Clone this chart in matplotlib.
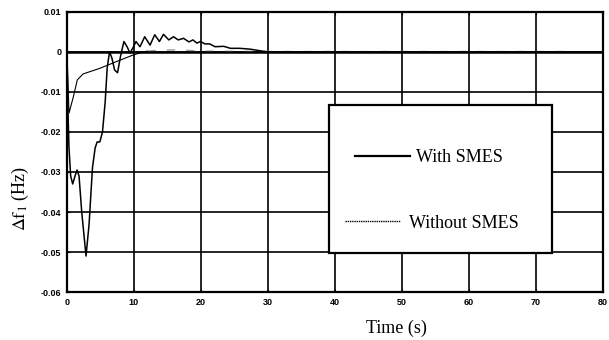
import matplotlib.pyplot as plt
from matplotlib.patches import Rectangle

plt.rcParams['mathtext.fontset'] = 'stix'

# oscillating response (thick solid)
t_with = [0, 0.1, 0.3, 0.55, 0.85, 1.2, 1.5, 1.8, 2.2, 2.84, 3.3, 3.8, 4.2, 4.5,
          4.9, 5.3, 5.7, 6.0, 6.35, 6.7, 7.1, 7.55, 8.0, 8.5, 9.0, 9.4, 9.9, 10.3,
          10.9, 11.6, 12.4, 13.1, 13.8, 14.4, 15.2, 15.9, 16.6, 17.4, 18.2, 18.8,
          19.4, 19.9, 20.6, 21.3, 22.1, 23.4, 24.4, 25.8, 27.3, 28.8, 30, 40, 80]
df_with = [0, -0.012, -0.024, -0.031, -0.033, -0.031, -0.0295, -0.031, -0.040,
           -0.051, -0.043, -0.029, -0.024, -0.0225, -0.0225, -0.020, -0.0125,
           -0.004, 0.0, -0.0015, -0.0045, -0.0052, -0.001, 0.0026, 0.0012, -0.0003,
           0.0012, 0.0026, 0.0013, 0.0038, 0.0017, 0.0043, 0.0026, 0.0044, 0.003,
           0.0038, 0.003, 0.0034, 0.0025, 0.003, 0.0022, 0.0026, 0.002, 0.002,
           0.0013, 0.0014, 0.0009, 0.0009, 0.0007, 0.0003, 0.0, 0.0, 0.0]

# smooth response (thin)
t_without = [0, 0.3, 0.95, 1.54, 2.4, 4.9, 7.4, 9.9, 11.4, 12.0]
df_without = [0, -0.0153, -0.0112, -0.007, -0.0055, -0.0041, -0.0024, -0.00075, 0.0, 0.0002]
t_tail = [12.0, 13.4, 15.9, 17.9, 20, 30, 75]
df_tail = [0.0002, 0.0004, 0.0005, 0.0004, 0.0002, 0.0001, 0.0001]

xticks = list(range(0, 81, 10))
yticks = [0.01, 0, -0.01, -0.02, -0.03, -0.04, -0.05, -0.06]
ylabels = ['0.01', '0', '-0.01', '-0.02', '-0.03', '-0.04', '-0.05', '-0.06']

fig = plt.figure(figsize=(6.09, 3.40), dpi=100)
ax = fig.add_axes([0.110, 0.141, 0.880, 0.824])

ax.plot(t_without, df_without, color='black', lw=0.8)
ax.plot(t_tail, df_tail, color='#999999', lw=1.0, ls=(0, (6, 8)))
ax.plot(t_with, df_with, color='black', lw=1.1)

ax.set_xlim(0, 80)
ax.set_ylim(-0.06, 0.01)
ax.set_xticks(xticks)
ax.set_yticks(yticks)
ax.set_yticklabels(ylabels)
ax.grid(True, color='black', lw=1.2)
ax.axhline(0, color='black', lw=1.8)
for s in ax.spines.values():
    s.set_linewidth(1.6)
ax.tick_params(direction='in', length=2, top=True, right=True, pad=4)
for lab in ax.get_xticklabels() + ax.get_yticklabels():
    lab.set_fontfamily(['Liberation Sans Narrow', 'Liberation Sans'])
    lab.set_fontweight('bold')
    lab.set_fontsize(6.5)

# legend box
ax.add_patch(Rectangle((0.489, 0.139), 0.416, 0.529, transform=ax.transAxes,
                       facecolor='white', edgecolor='black', lw=1.6, zorder=5))
ax.plot([0.537, 0.640], [0.486, 0.486], transform=ax.transAxes, color='black', lw=1.6, zorder=6)
ax.text(0.651, 0.479, 'With SMES', transform=ax.transAxes, va='center', ha='left',
        family='Liberation Serif', fontsize=13, zorder=6)
ax.plot([0.519, 0.621], [0.254, 0.254], transform=ax.transAxes, color='black', lw=1.0,
        ls=(0, (1, 0.6)), zorder=6)
ax.text(0.638, 0.246, 'Without SMES', transform=ax.transAxes, va='center', ha='left',
        family='Liberation Serif', fontsize=13, zorder=6)

fig.text(396 / 609, 1 - 328 / 340, 'Time (s)', ha='center', va='center',
         family='Liberation Serif', fontsize=13)
fig.text(20 / 609, 1 - 198 / 340, r'$\Delta\mathrm{f}_1$ (Hz)', ha='center', va='center',
         rotation=90, family='Liberation Serif', fontsize=13)

fig.savefig('out.png', dpi=100)
